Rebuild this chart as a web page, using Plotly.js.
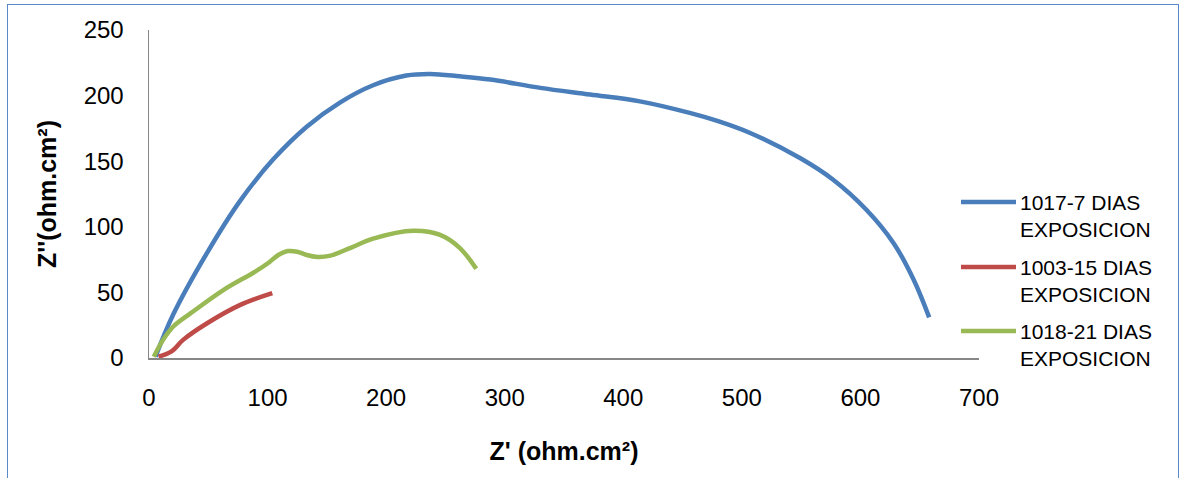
<!DOCTYPE html>
<html>
<head>
<meta charset="utf-8">
<script src="https://cdn.plot.ly/plotly-3.0.1.min.js"></script>
<style>
  html, body { margin: 0; padding: 0; background: #ffffff; }
  #wrap { position: relative; width: 1181px; height: 478px; overflow: hidden; }
  #chart { width: 1181px; height: 478px; }
  #frame { position: absolute; left: 7px; top: 4px; width: 1170px; height: 600px;
           border: 1.5px solid #5a89c8; pointer-events: none; }
</style>
</head>
<body>
<div id="wrap">
  <div id="chart"></div>
  <div id="frame"></div>
</div>
<script>
// Series: 1017-7 DIAS EXPOSICION
const blueX = [5.5, 20.5, 48.6, 76.7, 104.8, 133, 161, 189, 217, 237, 262, 288, 330, 372, 414, 456, 480, 507, 549, 577, 605, 628, 645, 658];
const blueY = [1, 33.3, 79.6, 119.6, 151.4, 176.3, 194.7, 207.9, 215.3, 216.5, 214.7, 212.2, 205.9, 200.8, 195.6, 186.8, 180.5, 171.5, 152.4, 135.9, 113, 87.5, 59.5, 31];
// Series: 1003-15 DIAS EXPOSICION
const redX = [8, 19, 29, 49, 77, 104];
const redY = [1, 5, 14, 26.5, 40.5, 49.4];
// Series: 1018-21 DIAS EXPOSICION
const greenX = [4, 12, 20.5, 35, 63, 88, 100, 109, 117, 125, 133, 142, 152, 170, 189, 223, 245, 262, 276];
const greenY = [1, 14, 24, 34, 52, 65, 72, 78.5, 81.5, 81, 78.5, 77, 77.8, 84, 91, 97, 94, 84, 68];

const seriesNames = ["1017-7 DIAS<br>EXPOSICION", "1003-15 DIAS<br>EXPOSICION", "1018-21 DIAS<br>EXPOSICION"];
const seriesColors = ["#4a7ebb", "#be4b48", "#98b954"];
const xTicks = [0, 100, 200, 300, 400, 500, 600, 700];
const yTicks = [0, 50, 100, 150, 200, 250];

const FONT = "Liberation Sans, Arial, sans-serif";
const LW = 4.5;

const xs = [blueX, redX, greenX];
const ys = [blueY, redY, greenY];
const traces = xs.map((x, i) => ({
  type: "scatter", mode: "lines", x: x, y: ys[i],
  name: seriesNames[i],
  line: { color: seriesColors[i], width: LW, shape: "spline", smoothing: 1 },
  showlegend: false, hoverinfo: "skip"
}));

// Custom legend (paper coords): plot spans x 149..979 px, y 30..358 px
const W = 830, H = 328;
const legendRowsPx = [202, 267, 331];
const shapes = [];
const annotations = [];
legendRowsPx.forEach((py, i) => {
  const yp = (358 - py) / H;
  shapes.push({
    type: "line", xref: "paper", yref: "paper",
    x0: (961 - 149) / W, x1: (1016 - 149) / W, y0: yp, y1: yp,
    line: { color: seriesColors[i], width: LW }
  });
  annotations.push({
    xref: "paper", yref: "paper", x: (1018 - 149) / W, y: (358 - (py - 13)) / H,
    xanchor: "left", yanchor: "top", align: "left", showarrow: false,
    text: seriesNames[i], font: { family: FONT, size: 21, color: "#000" }
  });
});

const layout = {
  width: 1181, height: 478,
  margin: { l: 149, r: 202, t: 30, b: 120 },
  paper_bgcolor: "#ffffff", plot_bgcolor: "#ffffff",
  showlegend: false,
  font: { family: FONT, color: "#000" },
  xaxis: {
    range: [0, 700], tickvals: xTicks, ticktext: xTicks.map(String),
    showgrid: false, zeroline: false, showline: true, linecolor: "#878787", linewidth: 1.5,
    ticks: "", ticklabelstandoff: 18,
    tickfont: { family: FONT, size: 24, color: "#000" },
    title: { text: "Z' (ohm.cm²)", font: { family: FONT, size: 25, color: "#000", weight: "bold" }, standoff: 32 },
    fixedrange: true
  },
  yaxis: {
    range: [0, 250], tickvals: yTicks, ticktext: yTicks.map(String),
    showgrid: false, zeroline: false, showline: true, linecolor: "#878787", linewidth: 1.5,
    ticks: "", ticklabelstandoff: 19,
    tickfont: { family: FONT, size: 24, color: "#000" },
    title: { text: "Z''(ohm.cm²)", font: { family: FONT, size: 25, color: "#000", weight: "bold" }, standoff: 20 },
    fixedrange: true
  },
  shapes: shapes,
  annotations: annotations
};

Plotly.newPlot("chart", traces, layout, { displayModeBar: false, staticPlot: true });
</script>
</body>
</html>
